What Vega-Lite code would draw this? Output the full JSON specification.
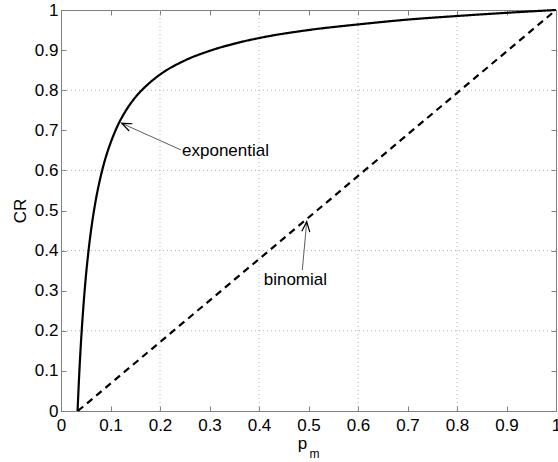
{
  "$schema": "https://vega.github.io/schema/vega-lite/v6.json",
  "width": 495,
  "height": 401,
  "autosize": {"type": "none"},
  "padding": {"left": 61, "top": 10, "right": 2, "bottom": 51},
  "background": "white",
  "config": {
    "view": {"stroke": "#808080", "strokeWidth": 1},
    "font": "Liberation Sans",
    "axis": {
      "labelFont": "Liberation Sans",
      "labelFontSize": 17,
      "labelColor": "black",
      "titleFont": "Liberation Sans",
      "titleFontSize": 17,
      "titleFontWeight": "normal",
      "titleColor": "black",
      "domainColor": "#808080",
      "tickColor": "#808080",
      "grid": false
    }
  },
  "datasets": {
    "curves": [
      {"series": "exponential", "p": 0.0335, "cr": 0.0},
      {"series": "exponential", "p": 0.035, "cr": 0.044},
      {"series": "exponential", "p": 0.037, "cr": 0.096},
      {"series": "exponential", "p": 0.040, "cr": 0.164},
      {"series": "exponential", "p": 0.043, "cr": 0.222},
      {"series": "exponential", "p": 0.046, "cr": 0.273},
      {"series": "exponential", "p": 0.050, "cr": 0.332},
      {"series": "exponential", "p": 0.055, "cr": 0.393},
      {"series": "exponential", "p": 0.060, "cr": 0.444},
      {"series": "exponential", "p": 0.065, "cr": 0.487},
      {"series": "exponential", "p": 0.070, "cr": 0.524},
      {"series": "exponential", "p": 0.080, "cr": 0.584},
      {"series": "exponential", "p": 0.090, "cr": 0.631},
      {"series": "exponential", "p": 0.100, "cr": 0.668},
      {"series": "exponential", "p": 0.115, "cr": 0.713},
      {"series": "exponential", "p": 0.130, "cr": 0.747},
      {"series": "exponential", "p": 0.150, "cr": 0.782},
      {"series": "exponential", "p": 0.175, "cr": 0.814},
      {"series": "exponential", "p": 0.200, "cr": 0.839},
      {"series": "exponential", "p": 0.250, "cr": 0.874},
      {"series": "exponential", "p": 0.300, "cr": 0.898},
      {"series": "exponential", "p": 0.350, "cr": 0.916},
      {"series": "exponential", "p": 0.400, "cr": 0.930},
      {"series": "exponential", "p": 0.500, "cr": 0.950},
      {"series": "exponential", "p": 0.600, "cr": 0.964},
      {"series": "exponential", "p": 0.700, "cr": 0.976},
      {"series": "exponential", "p": 0.800, "cr": 0.985},
      {"series": "exponential", "p": 0.900, "cr": 0.993},
      {"series": "exponential", "p": 1.000, "cr": 1.0},
      {"series": "binomial", "p": 0.034, "cr": 0.0},
      {"series": "binomial", "p": 1.0, "cr": 1.0}
    ],
    "grid": [{"g": 0.2}, {"g": 0.4}, {"g": 0.6}, {"g": 0.8}],
    "arrows": [
      {"name": "exponential", "ord": 0, "p": 0.2424, "cr": 0.651},
      {"name": "exponential", "ord": 1, "p": 0.1226, "cr": 0.7175},
      {"name": "binomial", "ord": 0, "p": 0.4875, "cr": 0.3516},
      {"name": "binomial", "ord": 1, "p": 0.4964, "cr": 0.472}
    ],
    "heads": [
      {"name": "exponential", "p": 0.1226, "cr": 0.7175, "ang": 294.2},
      {"name": "binomial", "p": 0.4964, "cr": 0.472, "ang": 5.2}
    ],
    "labels": [
      {"text": "exponential", "p": 0.2445, "cr": 0.648},
      {"text": "binomial", "p": 0.4095, "cr": 0.327}
    ],
    "xtitle": [
      {"text": "p", "p": 0.488, "cr": -0.094, "sz": 17},
      {"text": "m", "p": 0.512, "cr": -0.117, "sz": 12}
    ]
  },
  "layer": [
    {
      "data": {"name": "grid"},
      "mark": {"type": "rule", "color": "#b4b4b4", "strokeWidth": 1, "strokeDash": [1, 3]},
      "encoding": {
        "x": {"field": "g", "type": "quantitative", "scale": {"domain": [0, 1], "nice": false}, "axis": null}
      }
    },
    {
      "data": {"name": "grid"},
      "mark": {"type": "rule", "color": "#b4b4b4", "strokeWidth": 1, "strokeDash": [1, 3]},
      "encoding": {
        "y": {"field": "g", "type": "quantitative", "scale": {"domain": [0, 1], "nice": false}, "axis": null}
      }
    },
    {
      "data": {"name": "curves"},
      "mark": {"type": "line", "color": "black", "strokeWidth": 2.2, "interpolate": "monotone"},
      "encoding": {
        "x": {
          "field": "p", "type": "quantitative",
          "scale": {"domain": [0, 1], "nice": false},
          "axis": {
            "orient": "bottom", "title": null,
            "values": [0, 0.1, 0.2, 0.3, 0.4, 0.5, 0.6, 0.7, 0.8, 0.9, 1],
            "format": "~g", "tickSize": -5, "labelPadding": 11, "labelFlush": false
          }
        },
        "y": {
          "field": "cr", "type": "quantitative",
          "scale": {"domain": [0, 1], "nice": false},
          "axis": {
            "orient": "left", "title": "CR",
            "values": [0, 0.1, 0.2, 0.3, 0.4, 0.5, 0.6, 0.7, 0.8, 0.9, 1],
            "format": "~g", "tickSize": -5, "labelPadding": 8, "titlePadding": 5, "labelFlush": false
          }
        },
        "detail": {"field": "series"},
        "strokeDash": {
          "field": "series", "type": "nominal",
          "scale": {"domain": ["exponential", "binomial"], "range": [[1, 0], [7, 5]]},
          "legend": null
        }
      }
    },
    {
      "data": {"name": "grid"},
      "mark": {"type": "point", "opacity": 0},
      "encoding": {
        "x": {
          "field": "g", "type": "quantitative",
          "scale": {"domain": [0, 1], "nice": false},
          "axis": {
            "orient": "top", "title": null, "labels": false,
            "values": [0, 0.1, 0.2, 0.3, 0.4, 0.5, 0.6, 0.7, 0.8, 0.9, 1],
            "tickSize": -5
          }
        },
        "y": {
          "field": "g", "type": "quantitative",
          "scale": {"domain": [0, 1], "nice": false},
          "axis": {
            "orient": "right", "title": null, "labels": false,
            "values": [0, 0.1, 0.2, 0.3, 0.4, 0.5, 0.6, 0.7, 0.8, 0.9, 1],
            "tickSize": -5
          }
        }
      }
    },
    {
      "data": {"name": "arrows"},
      "mark": {"type": "line", "color": "#333333", "strokeWidth": 0.8},
      "encoding": {
        "x": {"field": "p", "type": "quantitative", "scale": {"domain": [0, 1], "nice": false}, "axis": null},
        "y": {"field": "cr", "type": "quantitative", "scale": {"domain": [0, 1], "nice": false}, "axis": null},
        "detail": {"field": "name"},
        "order": {"field": "ord"}
      }
    },
    {
      "data": {"name": "heads"},
      "mark": {
        "type": "point",
        "shape": "M -0.4 1 L 0 0 L 0.4 1",
        "filled": false,
        "stroke": "black",
        "strokeWidth": 1.2,
        "size": 400,
        "opacity": 1
      },
      "encoding": {
        "x": {"field": "p", "type": "quantitative", "scale": {"domain": [0, 1], "nice": false}, "axis": null},
        "y": {"field": "cr", "type": "quantitative", "scale": {"domain": [0, 1], "nice": false}, "axis": null},
        "angle": {"field": "ang", "type": "quantitative", "scale": null}
      }
    },
    {
      "data": {"name": "labels"},
      "mark": {"type": "text", "align": "left", "baseline": "middle", "fontSize": 17, "font": "Liberation Sans", "color": "black"},
      "encoding": {
        "x": {"field": "p", "type": "quantitative", "scale": {"domain": [0, 1], "nice": false}, "axis": null},
        "y": {"field": "cr", "type": "quantitative", "scale": {"domain": [0, 1], "nice": false}, "axis": null},
        "text": {"field": "text"}
      }
    },
    {
      "data": {"name": "xtitle"},
      "mark": {"type": "text", "align": "center", "baseline": "alphabetic", "font": "Liberation Sans", "color": "black"},
      "encoding": {
        "x": {"field": "p", "type": "quantitative", "scale": {"domain": [0, 1], "nice": false}, "axis": null},
        "y": {"field": "cr", "type": "quantitative", "scale": {"domain": [0, 1], "nice": false}, "axis": null},
        "text": {"field": "text"},
        "size": {"field": "sz", "type": "quantitative", "scale": null}
      }
    }
  ],
  "resolve": {"axis": {"x": "independent", "y": "independent"}}
}
